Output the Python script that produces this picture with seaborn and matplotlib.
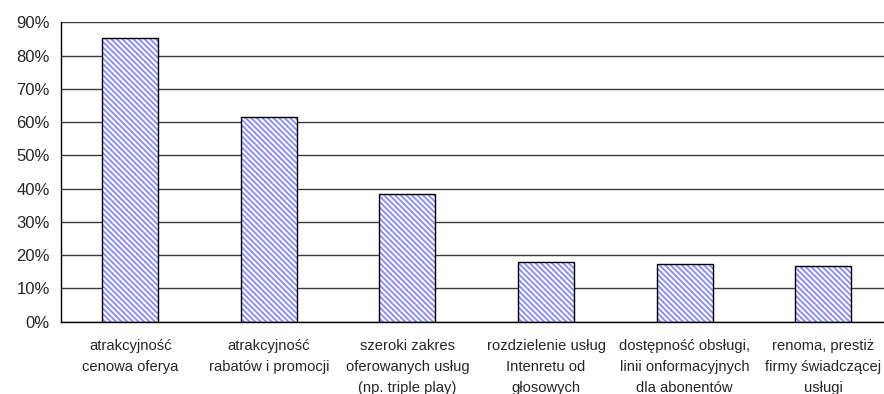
import matplotlib
matplotlib.use("Agg")
import matplotlib.pyplot as plt
import seaborn as sns
import pandas as pd
from matplotlib.patches import Rectangle

categories = [
    "atrakcyjność\ncenowa oferya",
    "atrakcyjność\nrabatów i promocji",
    "szeroki zakres\noferowanych usług\n(np. triple play)",
    "rozdzielenie usług\nIntenretu od\ngłosowych",
    "dostępność obsługi,\nlinii onformacyjnych\ndla abonentów",
    "renoma, prestiż\nfirmy świadczącej\nusługi",
]
values = [85.2, 61.6, 38.3, 17.9, 17.3, 16.8]
y_ticks = [0, 10, 20, 30, 40, 50, 60, 70, 80, 90]
y_tick_labels = [f"{v}%" for v in y_ticks]

sns.set_style("white")
plt.rcParams["font.family"] = ["Liberation Sans", "DejaVu Sans"]
plt.rcParams["hatch.linewidth"] = 1.4

df = pd.DataFrame({"cat": categories, "val": values})

fig = plt.figure(figsize=(8.84, 3.94), dpi=100)
ax = fig.add_axes([61 / 884, 72.3 / 394, 831.5 / 884, 299.4 / 394])

sns.barplot(data=df, x="cat", y="val", ax=ax, color="white", width=0.404,
            edgecolor="#8F8FF5", linewidth=0, hatch="\\\\\\\\\\\\", zorder=2)
for p in list(ax.patches):
    ax.add_patch(Rectangle(p.get_xy(), p.get_width(), p.get_height(),
                           fill=False, edgecolor="black", linewidth=1.0, zorder=3))

ax.set_ylim(0, 90)
ax.set_xlim(-0.5, len(categories) - 0.5)
ax.set_yticks(y_ticks)
ax.set_yticklabels(y_tick_labels, fontsize=12)
ax.yaxis.grid(True, color="#3a3a3a", linewidth=1.0, zorder=0)
ax.set_axisbelow(True)

ax.set_xticks([i - 0.5 for i in range(len(categories) + 1)])
ax.set_xticklabels([])
ax.set_xticks(list(range(len(categories))), minor=True)
ax.set_xticklabels(categories, minor=True, fontsize=10.6, linespacing=1.62)
ax.tick_params(axis="x", which="major", direction="out", length=4, width=1, color="black")
ax.tick_params(axis="x", which="minor", length=0, pad=12.5)
ax.tick_params(axis="y", direction="out", length=5, width=1, color="black", pad=3)

ax.set_xlabel("")
ax.set_ylabel("")
for s in ["top", "right"]:
    ax.spines[s].set_visible(False)
for s in ["left", "bottom"]:
    ax.spines[s].set_color("black")
    ax.spines[s].set_linewidth(1.0)

fig.savefig("out.png", dpi=100)
